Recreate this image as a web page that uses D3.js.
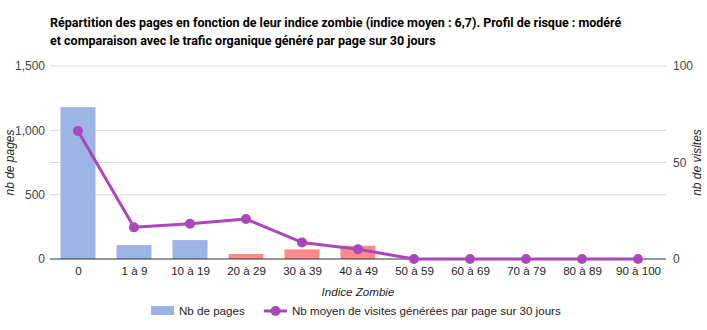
<!DOCTYPE html>
<html>
<head>
<meta charset="utf-8">
<script src="https://cdn.jsdelivr.net/npm/d3@7"></script>
<style>
  html, body { margin: 0; padding: 0; background: #fff; }
  svg { display: block; }
</style>
</head>
<body>
<svg id="chart" width="707" height="330"></svg>
<script>
// Zombie-index buckets and the two series plotted against them
const categories = ["0", "1 à 9", "10 à 19", "20 à 29", "30 à 39", "40 à 49", "50 à 59", "60 à 69", "70 à 79", "80 à 89", "90 à 100"];
const pages = [1180, 108, 147, 39, 75, 103, 0, 0, 0, 0, 0];
const visits = [66.3, 16.4, 18.3, 20.7, 8.6, 5.0, 0, 0, 0, 0, 0];
// Buckets from 20 upward are flagged as at-risk
const atRisk = [false, false, false, true, true, true, true, true, true, true, true];
const leftTicks = [0, 500, 1000, 1500];
const rightTicks = [0, 50, 100];

const titleLines = [
  "Répartition des pages en fonction de leur indice zombie (indice moyen : 6,7). Profil de risque : modéré",
  "et comparaison avec le trafic organique généré par page sur 30 jours"
];

const svg = d3.select("#chart");
const m = { left: 50, right: 41, top: 66, bottom: 71 };
const W = 707, H = 330;
const x0 = m.left, x1 = W - m.right, y0 = H - m.bottom, y1 = m.top;

const x = d3.scaleBand().domain(categories).range([x0, x1]).paddingInner(0.375).paddingOuter(0.1875);
const xc = d3.scalePoint().domain(categories).range([x0, x1]).padding(0.5);
const yL = d3.scaleLinear().domain([0, 1500]).range([y0, y1]);
const yR = d3.scaleLinear().domain([0, 100]).range([y0, y1]);

const font = "'Liberation Sans', Arial, sans-serif";
const fs = 11.6;

// Title
svg.append("g").selectAll("text").data(titleLines).join("text")
  .attr("x", 50).attr("y", (d, i) => 27 + i * 18)
  .attr("font-family", "Roboto, Arial, sans-serif")
  .attr("font-weight", "bold").attr("font-size", 12.5).attr("fill", "#000")
  .text(d => d);

// Gridlines for both axes
const gridVals = Array.from(new Set([...leftTicks.map(v => yL(v)), ...rightTicks.map(v => yR(v))]));
svg.append("g").selectAll("line").data(gridVals.filter(v => Math.abs(v - y0) > 0.5)).join("line")
  .attr("x1", x0).attr("x2", x1).attr("y1", d => d).attr("y2", d => d)
  .attr("stroke", "#d9d9d9").attr("stroke-width", 1);

// Left axis
const axL = svg.append("g").attr("transform", `translate(${x0},0)`)
  .call(d3.axisLeft(yL).tickValues(leftTicks).tickSize(0).tickPadding(5).tickFormat(d3.format(",")));
axL.select(".domain").remove();
axL.selectAll("text").attr("font-family", font).attr("font-size", 12).attr("fill", "#444");

// Right axis
const axR = svg.append("g").attr("transform", `translate(${x1},0)`)
  .call(d3.axisRight(yR).tickValues(rightTicks).tickSize(0).tickPadding(7));
axR.select(".domain").remove();
axR.selectAll("text").attr("font-family", font).attr("font-size", 12).attr("fill", "#444");

// Bars
svg.append("g").selectAll("rect").data(categories.map((c, i) => ({ c, v: pages[i], r: atRisk[i] })))
  .join("rect")
  .attr("x", d => x(d.c)).attr("width", x.bandwidth())
  .attr("y", d => yL(d.v)).attr("height", d => y0 - yL(d.v))
  .attr("fill", d => d.r ? "#ff8a8a" : "#9cb5e6");

// Baseline
svg.append("line").attr("x1", x0).attr("x2", x1).attr("y1", y0).attr("y2", y0)
  .attr("stroke", "#333").attr("stroke-width", 1);

// Bottom axis labels
const axB = svg.append("g").attr("transform", `translate(0,${y0})`)
  .call(d3.axisBottom(xc).tickSize(0).tickPadding(8));
axB.select(".domain").remove();
axB.selectAll("text").attr("font-family", font).attr("font-size", fs).attr("fill", "#222");

// Visits line
const pts = categories.map((c, i) => [xc(c), yR(visits[i])]);
svg.append("path").attr("d", d3.line()(pts))
  .attr("fill", "none").attr("stroke", "#ab47bc").attr("stroke-width", 3).attr("stroke-linejoin", "round");
svg.append("g").selectAll("circle").data(pts).join("circle")
  .attr("cx", d => d[0]).attr("cy", d => d[1]).attr("r", 5).attr("fill", "#ab47bc");

// Axis titles
svg.append("text").attr("transform", `translate(14,${(y0 + y1) / 2}) rotate(-90)`)
  .attr("text-anchor", "middle").attr("font-family", font).attr("font-style", "italic")
  .attr("font-size", 12).attr("fill", "#222").text("nb de pages");
svg.append("text").attr("transform", `translate(701,${(y0 + y1) / 2}) rotate(-90)`)
  .attr("text-anchor", "middle").attr("font-family", font).attr("font-style", "italic")
  .attr("font-size", 12).attr("fill", "#222").text("nb de visites");
svg.append("text").attr("x", (x0 + x1) / 2).attr("y", 296)
  .attr("text-anchor", "middle").attr("font-family", font).attr("font-style", "italic")
  .attr("font-size", fs).attr("fill", "#222").text("Indice Zombie");

// Legend
const lg = svg.append("g").attr("font-family", font).attr("font-size", fs).attr("fill", "#222");
lg.append("rect").attr("x", 151).attr("y", 306).attr("width", 23).attr("height", 9).attr("fill", "#9cb5e6");
lg.append("text").attr("x", 179).attr("y", 315).text("Nb de pages");
lg.append("line").attr("x1", 264).attr("x2", 287).attr("y1", 311).attr("y2", 311)
  .attr("stroke", "#ab47bc").attr("stroke-width", 3);
lg.append("circle").attr("cx", 275.5).attr("cy", 311).attr("r", 5).attr("fill", "#ab47bc");
lg.append("text").attr("x", 292).attr("y", 315).text("Nb moyen de visites générées par page sur 30 jours");
</script>
</body>
</html>
